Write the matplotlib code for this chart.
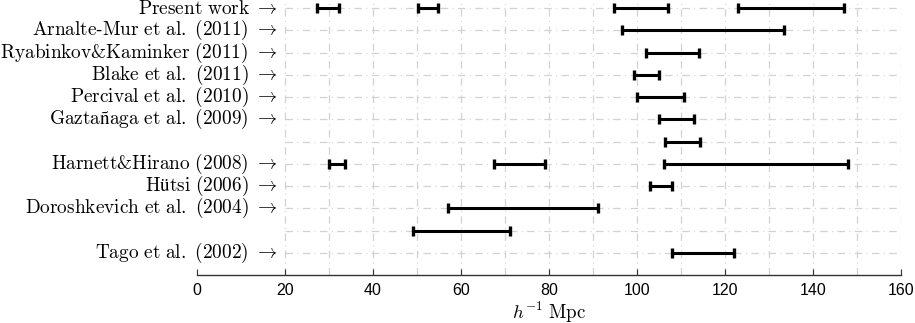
import matplotlib
matplotlib.use("Agg")
import matplotlib.pyplot as plt
import numpy as np

plt.rcParams['mathtext.fontset'] = 'cm'

# Row labels (top to bottom); empty string = unlabeled row
labels = ["Present work", "Arnalte-Mur et al. (2011)", "Ryabinkov&Kaminker (2011)",
          "Blake et al. (2011)", "Percival et al. (2010)", "Gaztañaga et al. (2009)",
          "", "Harnett&Hirano (2008)", "Hütsi (2006)", "Doroshkevich et al. (2004)",
          "", "Tago et al. (2002)"]

# Intervals per row: list of (low, high) in h^-1 Mpc
intervals = [
    [(27.2, 32.3), (50.3, 54.8), (94.8, 107.1), (122.9, 147.0)],
    [(96.5, 133.5)],
    [(102.0, 114.1)],
    [(99.3, 105.1)],
    [(100.1, 110.7)],
    [(105.0, 113.0)],
    [(106.4, 114.4)],
    [(30.0, 33.7), (67.6, 79.2), (106.1, 148.0)],
    [(103.0, 107.9)],
    [(57.0, 91.1)],
    [(49.1, 71.1)],
    [(108.0, 122.0)],
]

xticks = [0, 20, 40, 60, 80, 100, 120, 140, 160]
xlabel = r"$h^{-1}\ \mathrm{Mpc}$"


def to_math(s):
    s = s.replace(" ", r"\ ").replace("-", "\u2010")
    return r"$\mathrm{" + s + r"}\ \rightarrow$"


fig = plt.figure(figsize=(9.15, 3.23), dpi=100)
ax = fig.add_axes([197/915, 1 - 275/323, (901 - 197)/915, 275/323])

nrows = len(labels)
ax.set_xlim(0, 160)
ax.set_ylim(nrows, -0.36)

grid_kw = dict(color='#d2d2d2', lw=0.9, linestyle=(0, (6, 3.5, 0.8, 3.5)), zorder=1)
for gx in range(20, 161, 10):
    ax.plot([gx, gx], [nrows, -0.36], **grid_kw)
for r in range(nrows):
    ax.plot([20, 160], [r, r], **grid_kw)

for r, ivs in enumerate(intervals):
    for lo, hi in ivs:
        ax.plot([lo, hi], [r, r], color='black', lw=2.2, solid_capstyle='butt', zorder=3)
        ax.plot([lo, hi], [r, r], linestyle='none', marker='|', ms=6.5, mew=2.4,
                color='black', zorder=4)

for r, lab in enumerate(labels):
    if lab:
        ax.text(18.3, r, to_math(lab), ha='right', va='center', fontsize=13.9, zorder=5)

ax.set_yticks([])
ax.set_xticks(xticks)
ax.set_xticklabels([str(t) for t in xticks], fontfamily='Liberation Sans', fontsize=11.5)
ax.tick_params(axis='x', direction='in', length=4.5, width=0.8, color='#333333', pad=6)
for sp in ['top', 'right', 'left']:
    ax.spines[sp].set_visible(False)
ax.spines['bottom'].set_color('#333333')
ax.spines['bottom'].set_linewidth(1.0)

fig.text(549/915, 1 - 312/323, xlabel, ha='center', va='center', fontsize=13.6)

fig.savefig("out.png", dpi=100)
